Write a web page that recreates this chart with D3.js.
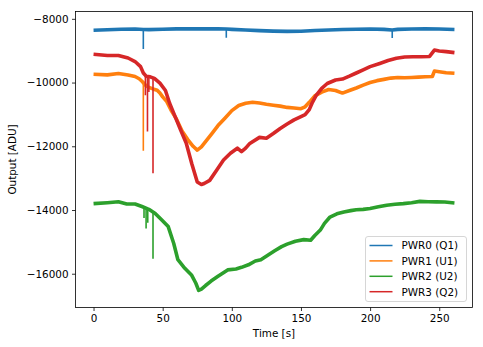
<!DOCTYPE html>
<html>
<head>
<meta charset="utf-8">
<script src="https://cdn.jsdelivr.net/npm/d3@7"></script>
<style>
  html, body { margin: 0; padding: 0; background: #fff; }
  svg { display: block; }
  text { font-family: "DejaVu Sans", sans-serif; fill: #000; }
</style>
</head>
<body>
<svg id="chart" width="483" height="347"></svg>
<script>
// Detector output traces, sampled along time [s]
const pwr0T = [0,10,20,30,36,40,50,60,70,80,90,96,100,110,120,130,140,150,160,170,180,190,200,210,216,220,230,240,250,261];
const pwr0V = [-8360,-8345,-8325,-8320,-8335,-8340,-8325,-8315,-8310,-8315,-8315,-8320,-8330,-8350,-8370,-8385,-8395,-8390,-8365,-8350,-8335,-8325,-8320,-8330,-8350,-8330,-8320,-8315,-8320,-8335];

const pwr1T = [0,10,18,25,30,33,35,38,40,43,46,48,50,53,56,60,64,68,72,75,78,82,86,90,95,100,105,110,115,120,125,130,135,140,145,150,153,156,160,165,170,175,180,185,190,195,200,205,210,215,220,225,230,235,240,245,246.5,250,255,261];
const pwr1V = [-9740,-9760,-9715,-9760,-9810,-9880,-9960,-10100,-10150,-10200,-10240,-10330,-10450,-10600,-10860,-11150,-11520,-11780,-12000,-12120,-12020,-11800,-11580,-11350,-11120,-10880,-10720,-10650,-10620,-10640,-10680,-10710,-10740,-10780,-10800,-10820,-10760,-10620,-10420,-10300,-10220,-10250,-10330,-10250,-10170,-10080,-10000,-9940,-9900,-9860,-9840,-9850,-9840,-9830,-9820,-9810,-9640,-9660,-9690,-9710];

const pwr2T = [0,10,18,24,30,35,40,44.6,49,54,58,61,66,71,74,76,78,81,85,90,97,103,107,112,117,121,126,131,136,140,146,152,157,160,164,167,171,176,181,186,190,195,200,206,212,218,224,230,236,242,248,254,261];
const pwr2V = [-13800,-13770,-13740,-13810,-13810,-13890,-13980,-14110,-14300,-14520,-15050,-15560,-15830,-16050,-16300,-16520,-16480,-16370,-16230,-16080,-15880,-15850,-15800,-15720,-15600,-15560,-15420,-15280,-15150,-15070,-14980,-14930,-14950,-14800,-14630,-14420,-14220,-14120,-14060,-14020,-13990,-13980,-13950,-13900,-13850,-13820,-13800,-13770,-13730,-13740,-13745,-13750,-13780];

const pwr3T = [0,10,18,25,30,34,36,38,41,44,48,52,55,59,63,67,71,75,78,80,84,89,94,99,104,107,110,113,120,125,130,135,140,145,150,153,156,158,161,165,169,175,180,185,190,195,200,207,213,219,225,231,237,243,246.5,250,255,261];
const pwr3V = [-9110,-9150,-9150,-9230,-9340,-9500,-9700,-9800,-9820,-9870,-10020,-10250,-10650,-11070,-11490,-11900,-12540,-13120,-13200,-13170,-13070,-12750,-12430,-12220,-12060,-12170,-12060,-11910,-11720,-11750,-11600,-11440,-11300,-11170,-11070,-11010,-10850,-10650,-10400,-10180,-10030,-9920,-9890,-9800,-9700,-9600,-9500,-9400,-9310,-9240,-9200,-9190,-9190,-9180,-8980,-9010,-9030,-9060];

// Single-sample glitches in each trace
const pwr0SpikeT = [36, 96, 216];
const pwr0SpikeV = [-8950, -8590, -8600];
const pwr1SpikeT = [36];
const pwr1SpikeV = [-12140];
const pwr2SpikeT = [36.5, 38, 39.2, 43];
const pwr2SpikeV = [-14250, -14580, -14400, -15530];
const pwr3SpikeT = [37.5, 39, 40, 43];
const pwr3SpikeV = [-10400, -11540, -10300, -12850];

const seriesNames = ["PWR0 (Q1)", "PWR1 (U1)", "PWR2 (U2)", "PWR3 (Q2)"];
const seriesColors = ["#1f77b4", "#ff7f0e", "#2ca02c", "#d62728"];

const xTicks = [0, 50, 100, 150, 200, 250];
const yTicks = [-8000, -10000, -12000, -14000, -16000];
const xLimits = [-13.05, 274.05];
const yLimits = [-17060, -7770];

const series = [
  { t: pwr0T, v: pwr0V, st: pwr0SpikeT, sv: pwr0SpikeV },
  { t: pwr1T, v: pwr1V, st: pwr1SpikeT, sv: pwr1SpikeV },
  { t: pwr2T, v: pwr2V, st: pwr2SpikeT, sv: pwr2SpikeV },
  { t: pwr3T, v: pwr3V, st: pwr3SpikeT, sv: pwr3SpikeV }
];

const box = { left: 75.5, right: 472.5, top: 11.5, bottom: 307.5 };
const svg = d3.select("#chart");

const x = d3.scaleLinear().domain(xLimits).range([box.left, box.right]);
const y = d3.scaleLinear().domain(yLimits).range([box.bottom, box.top]);

const fmt = d => (d < 0 ? "\u2212" + Math.abs(d) : String(d));

// Axes
const gx = svg.append("g")
  .attr("transform", `translate(0,${box.bottom})`)
  .call(d3.axisBottom(x).tickValues(xTicks).tickFormat(fmt).tickSize(3.5).tickPadding(3.5));
const gy = svg.append("g")
  .attr("transform", `translate(${box.left},0)`)
  .call(d3.axisLeft(y).tickValues(yTicks).tickFormat(fmt).tickSize(3.5).tickPadding(3.5));
[gx, gy].forEach(g => {
  g.select(".domain").remove();
  g.selectAll(".tick line").attr("stroke", "#000").attr("stroke-width", 0.8);
  g.selectAll(".tick text").attr("font-family", "DejaVu Sans").attr("font-size", 10.4).attr("fill", "#000");
});

// Traces
const clip = svg.append("clipPath").attr("id", "plotclip")
  .append("rect").attr("x", box.left).attr("y", box.top)
  .attr("width", box.right - box.left).attr("height", box.bottom - box.top);
const plot = svg.append("g").attr("clip-path", "url(#plotclip)");

const line = d3.line().x(d => x(d[0])).y(d => y(d[1]));

series.forEach((s, i) => {
  const pts = s.t.map((t, k) => [t, s.v[k]]);
  const g = plot.append("g");
  // glitches: vertical excursions from the trace
  s.st.forEach((t, k) => {
    const j = d3.bisectLeft(s.t, t);
    const a = Math.max(0, j - 1), b = Math.min(s.t.length - 1, j);
    const f = s.t[b] === s.t[a] ? 0 : (t - s.t[a]) / (s.t[b] - s.t[a]);
    const base = s.v[a] + f * (s.v[b] - s.v[a]);
    g.append("path")
      .attr("d", line([[t, base], [t, s.sv[k]]]))
      .attr("fill", "none").attr("stroke", seriesColors[i])
      .attr("stroke-width", 1.6);
  });
  g.append("path")
    .attr("d", line(pts))
    .attr("fill", "none")
    .attr("stroke", seriesColors[i])
    .attr("stroke-width", 3.6)
    .attr("stroke-linejoin", "round")
    .attr("stroke-linecap", "butt");
});

// Frame
svg.append("rect")
  .attr("x", box.left).attr("y", box.top)
  .attr("width", box.right - box.left).attr("height", box.bottom - box.top)
  .attr("fill", "none").attr("stroke", "#000").attr("stroke-width", 0.8);

// Axis labels
svg.append("text")
  .attr("x", (box.left + box.right) / 2).attr("y", 337)
  .attr("text-anchor", "middle").attr("font-size", 10.4)
  .text("Time [s]");
svg.append("text")
  .attr("transform", `translate(15.5,${(box.top + box.bottom) / 2}) rotate(-90)`)
  .attr("text-anchor", "middle").attr("font-size", 10.4)
  .text("Output [ADU]");

// Legend
const lg = svg.append("g");
lg.append("rect")
  .attr("x", 365.5).attr("y", 236.5).attr("width", 101).attr("height", 65)
  .attr("rx", 2.5).attr("ry", 2.5)
  .attr("fill", "#fff").attr("fill-opacity", 0.8)
  .attr("stroke", "#ccc").attr("stroke-width", 0.8);
seriesNames.forEach((name, i) => {
  const cy = 245.5 + i * 15.4;
  lg.append("line")
    .attr("x1", 369.5).attr("x2", 392.5).attr("y1", cy).attr("y2", cy)
    .attr("stroke", seriesColors[i]).attr("stroke-width", 1.5);
  lg.append("text")
    .attr("x", 401.5).attr("y", cy + 3.8)
    .attr("font-size", 10.4)
    .text(name);
});
</script>
</body>
</html>
